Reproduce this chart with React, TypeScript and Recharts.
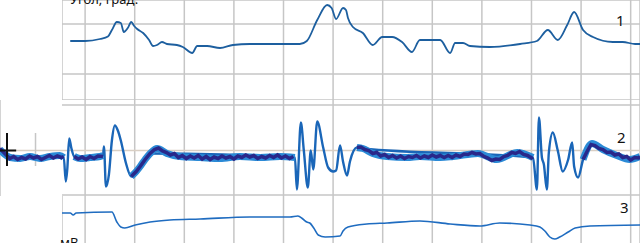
import { CartesianGrid, Line, LineChart, ReferenceLine, XAxis, YAxis } from "recharts";

// time in seconds, one grid cell = 1 s
const gridSeconds = [1, 2, 3, 4, 5, 6, 7, 8, 9, 10, 11, 12];

// channel 1: joint angle
const angleTrace = [
  { t: 0.7, v: 33 }, { t: 1.0, v: 33 }, { t: 1.3, v: 35 }, { t: 1.46, v: 37.5 },
  { t: 1.54, v: 44 }, { t: 1.64, v: 52 }, { t: 1.72, v: 51 }, { t: 1.78, v: 42 },
  { t: 1.86, v: 46 }, { t: 1.93, v: 52 }, { t: 1.99, v: 48 }, { t: 2.05, v: 45 },
  { t: 2.17, v: 41 }, { t: 2.29, v: 34 }, { t: 2.37, v: 28 }, { t: 2.45, v: 29 },
  { t: 2.55, v: 32 }, { t: 2.65, v: 30 }, { t: 2.85, v: 29 }, { t: 2.97, v: 27 },
  { t: 3.16, v: 21 }, { t: 3.26, v: 28 }, { t: 3.46, v: 28 }, { t: 3.72, v: 26 },
  { t: 3.98, v: 29 }, { t: 4.32, v: 30 }, { t: 4.73, v: 30 }, { t: 5.33, v: 30 },
  { t: 5.47, v: 33 }, { t: 5.68, v: 54 }, { t: 5.88, v: 69 }, { t: 5.97, v: 66 },
  { t: 6.06, v: 55 }, { t: 6.2, v: 66 }, { t: 6.26, v: 64 }, { t: 6.3, v: 56 },
  { t: 6.4, v: 47 }, { t: 6.6, v: 41 }, { t: 6.8, v: 29 }, { t: 6.99, v: 37 },
  { t: 7.19, v: 37 }, { t: 7.39, v: 32 }, { t: 7.59, v: 22 }, { t: 7.75, v: 34 },
  { t: 8.16, v: 34 }, { t: 8.36, v: 21 }, { t: 8.46, v: 31 }, { t: 8.62, v: 31 },
  { t: 8.76, v: 28 }, { t: 9.16, v: 27 }, { t: 9.77, v: 30 }, { t: 10.11, v: 33 },
  { t: 10.33, v: 44 }, { t: 10.53, v: 34 }, { t: 10.72, v: 49 }, { t: 10.86, v: 62 },
  { t: 11.04, v: 44 }, { t: 11.24, v: 37 }, { t: 11.64, v: 32 }, { t: 11.84, v: 32 },
  { t: 12.09, v: 30 }, { t: 12.19, v: 30 },
];

// channel 2: EMG, quiet stretches (light envelope of the band)
const emgQuiet = [
  { t: -0.72, v: 0.1 }, { t: -0.64, v: -0.3 }, { t: -0.51, v: -0.7 }, { t: -0.31, v: -0.8 },
  { t: -0.11, v: -0.6 }, { t: 0.09, v: -0.8 }, { t: 0.29, v: -0.6 }, { t: 0.49, v: -0.5 },
  { t: 0.57, v: -0.7 }, { t: 0.6, v: null },
  { t: 0.78, v: -0.6 }, { t: 0.9, v: -0.8 }, { t: 1.1, v: -0.7 }, { t: 1.3, v: -0.6 },
  { t: 1.36, v: -0.5 }, { t: 1.4, v: null },
  { t: 1.93, v: -2.6 }, { t: 2.03, v: -2.1 }, { t: 2.11, v: -1.6 }, { t: 2.21, v: -0.9 },
  { t: 2.31, v: -0.3 }, { t: 2.45, v: 0.2 }, { t: 2.65, v: -0.3 }, { t: 2.91, v: -0.6 },
  { t: 3.32, v: -0.7 }, { t: 3.72, v: -0.8 }, { t: 4.12, v: -0.6 }, { t: 4.53, v: -0.7 },
  { t: 4.93, v: -0.6 }, { t: 5.23, v: -0.7 }, { t: 5.26, v: null },
  { t: 6.48, v: 0.3 }, { t: 6.6, v: 0.2 }, { t: 6.8, v: -0.3 }, { t: 7.09, v: -0.6 },
  { t: 7.49, v: -0.7 }, { t: 7.75, v: -0.6 }, { t: 8.16, v: -0.7 }, { t: 8.42, v: -0.6 },
  { t: 8.92, v: -0.3 }, { t: 9.3, v: -0.9 }, { t: 9.71, v: -0.2 }, { t: 10.03, v: -0.7 },
  { t: 10.06, v: null },
  { t: 11.04, v: -0.9 }, { t: 11.22, v: 0.7 }, { t: 11.44, v: 0.1 }, { t: 11.72, v: -0.5 },
  { t: 11.98, v: -0.9 }, { t: 12.19, v: -0.6 },
];

// channel 2: EMG, jitter of the quiet stretches (dark core of the band)
const emgNoise: [number, number | null][] = [
  [-0.72, 0.2], [-0.66, -0.1], [-0.6, -0.4], [-0.52, -0.8], [-0.44, -0.6], [-0.36, -0.9],
  [-0.28, -0.7], [-0.2, -0.85], [-0.12, -0.55], [-0.04, -0.75], [0.04, -0.6], [0.12, -0.9],
  [0.2, -0.7], [0.28, -0.5], [0.36, -0.75], [0.44, -0.55], [0.52, -0.7], [0.57, -0.6], [0.6, null],
  [0.78, -0.6], [0.86, -0.85], [0.94, -0.65], [1.02, -0.9], [1.1, -0.6], [1.18, -0.8],
  [1.26, -0.55], [1.36, -0.6], [1.4, null],
  [1.93, -2.6], [2.03, -2.1], [2.11, -1.6], [2.21, -0.9], [2.31, -0.3], [2.4, 0.1],
  [2.48, 0.25], [2.56, -0.05], [2.64, -0.2], [2.72, -0.45], [2.8, -0.3], [2.88, -0.7],
  [2.96, -0.5], [3.04, -0.8], [3.12, -0.55], [3.2, -0.75], [3.28, -0.5], [3.36, -0.85],
  [3.44, -0.6], [3.52, -0.9], [3.6, -0.65], [3.68, -0.8], [3.76, -0.55], [3.84, -0.75],
  [3.92, -0.6], [4.0, -0.85], [4.08, -0.55], [4.16, -0.7], [4.24, -0.45], [4.32, -0.65],
  [4.4, -0.5], [4.48, -0.8], [4.56, -0.6], [4.64, -0.75], [4.72, -0.5], [4.8, -0.7],
  [4.88, -0.45], [4.96, -0.75], [5.04, -0.55], [5.12, -0.8], [5.2, -0.6], [5.26, null],
  [6.48, 0.3], [6.56, 0.35], [6.64, 0.1], [6.72, 0.0], [6.8, -0.3], [6.88, -0.2],
  [6.96, -0.55], [7.04, -0.4], [7.12, -0.7], [7.2, -0.5], [7.28, -0.75], [7.36, -0.55],
  [7.44, -0.8], [7.52, -0.6], [7.6, -0.7], [7.68, -0.5], [7.76, -0.75], [7.84, -0.55],
  [7.92, -0.7], [8.0, -0.45], [8.08, -0.65], [8.16, -0.5], [8.24, -0.7], [8.32, -0.5],
  [8.4, -0.7], [8.48, -0.45], [8.56, -0.6], [8.64, -0.35], [8.72, -0.4], [8.8, -0.2],
  [8.88, -0.35], [8.96, -0.3], [9.04, -0.6], [9.12, -0.75], [9.2, -1.0], [9.28, -0.85],
  [9.36, -0.9], [9.44, -0.6], [9.52, -0.5], [9.6, -0.2], [9.68, -0.3], [9.76, -0.1],
  [9.84, -0.4], [9.92, -0.5], [10.0, -0.75], [10.03, -0.65], [10.06, null],
  [11.04, -0.9], [11.12, -0.1], [11.2, 0.6], [11.28, 0.5], [11.36, 0.2], [11.44, 0.1],
  [11.52, -0.2], [11.6, -0.15], [11.68, -0.45], [11.76, -0.35], [11.84, -0.7], [11.92, -0.6],
  [12.0, -0.95], [12.08, -0.7], [12.16, -0.75], [12.19, -0.6],
];

// channel 2: EMG, full signal including the bursts
const emgSignal = [
  { t: -0.72, v: 0.1 }, { t: -0.64, v: -0.3 }, { t: -0.51, v: -0.7 }, { t: 0.57, v: -0.7 },
  { t: 0.61, v: -3.1 }, { t: 0.64, v: -1.9 }, { t: 0.68, v: 1.2 }, { t: 0.72, v: 0.3 },
  { t: 0.78, v: -0.6 }, { t: 1.36, v: -0.5 }, { t: 1.38, v: 0.4 }, { t: 1.42, v: -3.6 },
  { t: 1.48, v: -2.4 }, { t: 1.54, v: 1.0 }, { t: 1.6, v: 2.5 }, { t: 1.66, v: 2.0 },
  { t: 1.72, v: 1.0 }, { t: 1.82, v: -1.2 }, { t: 1.93, v: -2.6 }, { t: 2.03, v: -2.1 },
  { t: 2.31, v: -0.3 }, { t: 5.23, v: -0.7 }, { t: 5.27, v: -3.9 }, { t: 5.35, v: 2.8 },
  { t: 5.41, v: 0.0 }, { t: 5.49, v: -3.7 }, { t: 5.55, v: 0.0 }, { t: 5.6, v: -1.9 },
  { t: 5.68, v: 2.9 }, { t: 5.8, v: 0.3 }, { t: 5.9, v: -1.7 }, { t: 6.0, v: -2.1 },
  { t: 6.06, v: -2.0 }, { t: 6.14, v: 0.5 }, { t: 6.2, v: -1.1 }, { t: 6.28, v: -2.5 },
  { t: 6.34, v: -1.1 }, { t: 6.48, v: 0.3 }, { t: 6.6, v: 0.2 }, { t: 10.03, v: -0.7 },
  { t: 10.11, v: -3.9 }, { t: 10.15, v: 3.3 }, { t: 10.21, v: -0.7 }, { t: 10.25, v: -1.4 },
  { t: 10.31, v: -3.9 }, { t: 10.35, v: -0.2 }, { t: 10.43, v: 1.8 }, { t: 10.53, v: 0.0 },
  { t: 10.63, v: -2.1 }, { t: 10.74, v: -0.9 }, { t: 10.82, v: 0.8 }, { t: 10.86, v: -1.6 },
  { t: 10.94, v: -2.7 }, { t: 11.04, v: -0.9 }, { t: 11.22, v: 0.7 },
];

// channel 3
const forceTrace = [
  { t: 0.53, v: 0 }, { t: 0.7, v: 0 }, { t: 0.76, v: -2 }, { t: 0.82, v: 0 },
  { t: 1.54, v: 1 }, { t: 1.64, v: -9 }, { t: 1.72, v: -14 }, { t: 1.8, v: -15 },
  { t: 2.01, v: -12 }, { t: 2.31, v: -9 }, { t: 2.71, v: -7 }, { t: 3.32, v: -6 },
  { t: 4.32, v: -4 }, { t: 5.13, v: -4 }, { t: 5.29, v: -3 }, { t: 5.39, v: -6 },
  { t: 5.47, v: -9 }, { t: 5.53, v: -10 }, { t: 5.61, v: -15 }, { t: 5.7, v: -22 },
  { t: 5.84, v: -24 }, { t: 6.14, v: -23 }, { t: 6.2, v: -18 }, { t: 6.3, v: -14 },
  { t: 6.68, v: -11 }, { t: 7.09, v: -10 }, { t: 7.75, v: -8 }, { t: 8.36, v: -11 },
  { t: 8.96, v: -13 }, { t: 9.36, v: -10 }, { t: 9.97, v: -12 }, { t: 10.17, v: -14 },
  { t: 10.27, v: -18 }, { t: 10.37, v: -24 }, { t: 10.47, v: -26 }, { t: 10.57, v: -24 },
  { t: 10.74, v: -19 }, { t: 10.88, v: -15 }, { t: 11.18, v: -13 }, { t: 12.19, v: -12 },
];

const GRID = "#c6c6c6";
const noMargin = { top: 0, right: 0, bottom: 0, left: 0 };
const innerDomain: [number, number] = [0.534, 12.188];
const fullDomain: [number, number] = [-0.716, 12.188];

const emgNoiseData = emgNoise.map(([t, v]) => ({ t, v }));

export default function App() {
  return (
    <div
      style={{
        position: "absolute",
        left: 0,
        top: 0,
        width: 640,
        height: 243,
        overflow: "hidden",
        background: "#fff",
        fontFamily: "'Noto Sans', sans-serif",
      }}
    >
      {/* channel 1 */}
      <div style={{ position: "absolute", left: 62, top: 0 }}>
        <LineChart width={578} height={100} margin={noMargin}>
          <XAxis type="number" dataKey="t" domain={innerDomain} ticks={gridSeconds} hide allowDataOverflow />
          <YAxis type="number" dataKey="v" domain={[-26, 74]} ticks={[0, 50]} hide allowDataOverflow />
          <CartesianGrid stroke={GRID} strokeWidth={1.5} />
          <Line
            data={angleTrace}
            dataKey="v"
            type="monotone"
            stroke="#1d5f9f"
            strokeWidth={1.8}
            dot={false}
            isAnimationActive={false}
          />
        </LineChart>
      </div>

      {/* channel 2 */}
      <div style={{ position: "absolute", left: 0, top: 100 }}>
        <LineChart width={640} height={96} margin={noMargin}>
          <XAxis type="number" dataKey="t" domain={fullDomain} ticks={gridSeconds} hide allowDataOverflow />
          <YAxis type="number" dataKey="v" domain={[-4.55, 5.05]} hide allowDataOverflow />
          <CartesianGrid stroke={GRID} strokeWidth={1.5} horizontal={false} />
          <ReferenceLine y={0} stroke="#d9cfc4" strokeWidth={1.5} />
          <ReferenceLine segment={[{ x: 0.534, y: 4.55 }, { x: 12.188, y: 4.55 }]} stroke={GRID} strokeWidth={1.5} />
          <ReferenceLine segment={[{ x: 0.534, y: -4.45 }, { x: 12.188, y: -4.45 }]} stroke={GRID} strokeWidth={1.5} />
          <ReferenceLine segment={[{ x: 0, y: 1.75 }, { x: 0, y: -1.55 }]} stroke={GRID} strokeWidth={1.5} />
          <Line
            data={emgSignal}
            dataKey="v"
            type="monotone"
            stroke="#1a66b8"
            strokeWidth={2.4}
            dot={false}
            isAnimationActive={false}
          />
          <Line
            data={emgQuiet}
            dataKey="v"
            type="monotone"
            stroke="#2b8ad6"
            strokeWidth={7}
            dot={false}
            isAnimationActive={false}
          />
          <Line
            data={emgNoiseData}
            dataKey="v"
            type="linear"
            stroke="#29288a"
            strokeWidth={3.5}
            dot={false}
            isAnimationActive={false}
          />
          {/* cursor */}
          <ReferenceLine segment={[{ x: -0.575, y: 1.75 }, { x: -0.575, y: -1.55 }]} stroke="#111" strokeWidth={2} />
          <ReferenceLine segment={[{ x: -0.716, y: 0 }, { x: -0.39, y: 0 }]} stroke="#111" strokeWidth={2} />
        </LineChart>
      </div>

      {/* channel 3 */}
      <div style={{ position: "absolute", left: 62, top: 196 }}>
        <LineChart width={578} height={47} margin={noMargin}>
          <XAxis type="number" dataKey="t" domain={innerDomain} ticks={gridSeconds} hide allowDataOverflow />
          <YAxis type="number" dataKey="v" domain={[-30, 17]} hide allowDataOverflow />
          <CartesianGrid stroke={GRID} strokeWidth={1.5} horizontal={false} />
          <Line
            data={forceTrace}
            dataKey="v"
            type="monotone"
            stroke="#1f6cc0"
            strokeWidth={1.6}
            dot={false}
            isAnimationActive={false}
          />
        </LineChart>
      </div>

      <svg
        width={640}
        height={243}
        style={{ position: "absolute", left: 0, top: 0, pointerEvents: "none" }}
      >
        <text x={70} y={4} fontSize={13} fill="#111">Угол, град.</text>
        <text x={60} y={247} fontSize={13} fill="#111">мВ</text>
        <text x={616} y={26} fontSize={15} fill="#111">1</text>
        <text x={617} y={143} fontSize={15} fill="#111">2</text>
        <text x={620} y={213} fontSize={15} fill="#111">3</text>
      </svg>
    </div>
  );
}
